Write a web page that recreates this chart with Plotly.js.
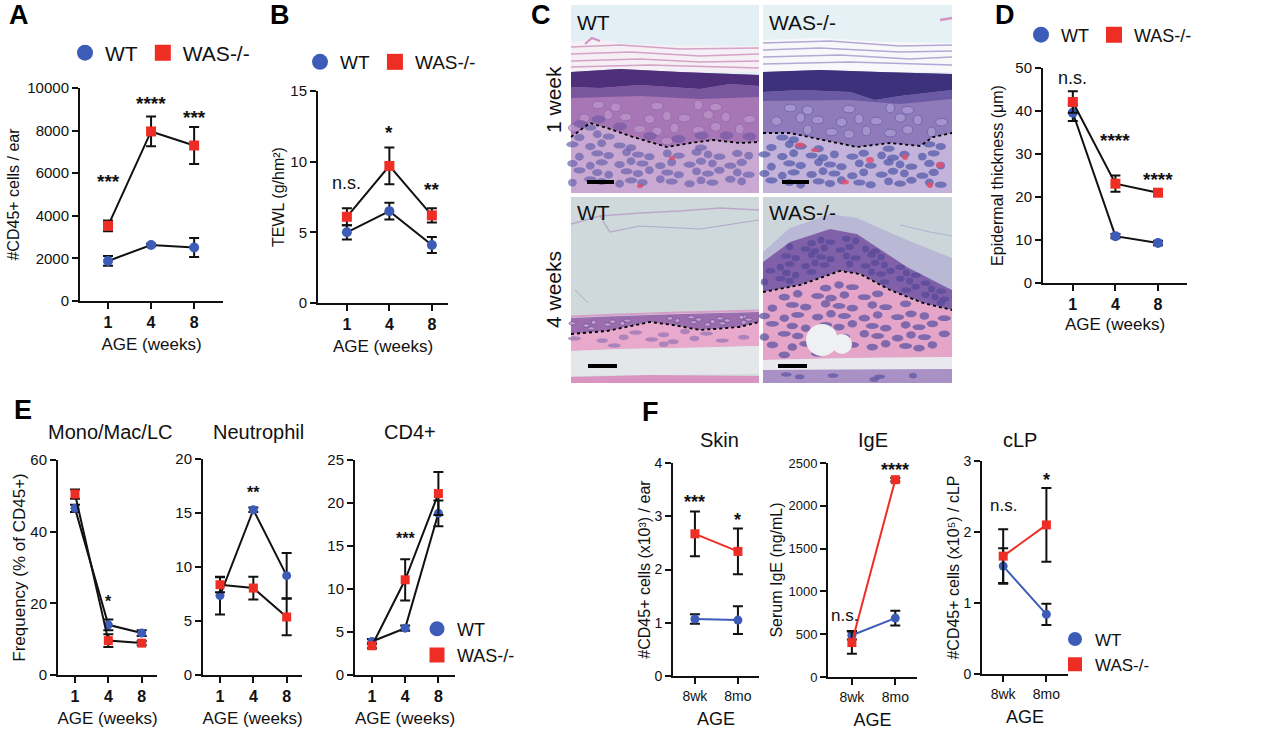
<!DOCTYPE html>
<html><head><meta charset="utf-8">
<script src="https://cdn.plot.ly/plotly-3.0.1.min.js"></script>
<style>html,body{margin:0;padding:0;background:#fff;}#chart{width:1266px;height:732px;}</style>
</head><body><div id="chart"></div>
<script>
// ---------- DATA ----------
const weeks = ['1', '4', '8'];
const ageF = ['8wk', '8mo'];
// A: #CD45+ cells / ear
const aWT = [1880, 2630, 2510], aWTerr = [230, 60, 450];
const aWAS = [3530, 7960, 7300], aWASerr = [250, 700, 870];
// B: TEWL
const bWT = [5.0, 6.5, 4.1], bWTerr = [0.5, 0.6, 0.57];
const bWAS = [6.1, 9.7, 6.2], bWASerr = [0.6, 1.3, 0.5];
// D: Epidermal thickness
const dWT = [39.6, 10.9, 9.3], dWTerr = [1.9, 0.5, 0.5];
const dWAS = [42.1, 23.1, 21.0], dWASerr = [2.5, 1.9, 0.6];
// E: Frequency (% of CD45+)
const monoWT = [46.5, 14.0, 11.7], monoWTerr = [1.0, 1.5, 0.8];
const monoWAS = [50.5, 9.6, 8.9], monoWASerr = [1.3, 1.8, 0.6];
const neuWT = [7.35, 15.3, 9.2], neuWTerr = [1.75, 0.2, 2.1];
const neuWAS = [8.36, 8.05, 5.37], neuWASerr = [0.7, 1.05, 1.7];
const cd4WT = [3.9, 5.45, 18.8], cd4WTerr = [0.3, 0.3, 1.5];
const cd4WAS = [3.4, 11.07, 21.1], cd4WASerr = [0.3, 2.4, 2.5];
// F
const skinWT = [1.07, 1.05], skinWTerr = [0.09, 0.26];
const skinWAS = [2.67, 2.34], skinWASerr = [0.42, 0.43];
const igeWT = [488, 688], igeWTerr = [50, 85];
const igeWAS = [402, 2305], igeWASerr = [130, 20];
const clpWT = [1.52, 0.84], clpWTerr = [0.25, 0.15];
const clpWAS = [1.66, 2.10], clpWASerr = [0.38, 0.52];

// ---------- STYLE ----------
const W = 1266, H = 732;
const BLUE = '#3c5cb8', RED = '#ee2d24', INK = '#111111';
const FONT = '"Liberation Sans", Arial, Helvetica, sans-serif';
const px = x => x / W;
const py = y => 1 - y / H;

const data = [];
const layout = {
  width: W, height: H, margin: {l: 0, r: 0, t: 0, b: 0},
  paper_bgcolor: '#ffffff', plot_bgcolor: 'rgba(0,0,0,0)',
  font: {family: FONT, color: INK},
  showlegend: true, annotations: [], shapes: [], hovermode: false
};

const panels = [
  {n: 1, xd: [80, 223], yd: [88, 301], xr: [-0.65, 2.67], yr: [0, 10000], dt: 2000, cats: weeks,
   wt: aWT, wte: aWTerr, was: aWAS, wase: aWASerr, yt: '#CD45+ cells / ear', xt: 'AGE (weeks)',
   ms: 10, colored: false, tickF: 15, xtickF: 16, xbold: true, ytF: 16, xtF: 17, ystand: 4, xstand: 8,
   stars: [[0, 5822, '***'], [1, 9530, '****'], [2, 8873, '***']], starF: 19},
  {n: 2, xd: [318, 448], yd: [91, 303], xr: [-0.68, 2.38], yr: [0, 15], dt: 5, cats: weeks,
   wt: bWT, wte: bWTerr, was: bWAS, wase: bWASerr, yt: 'TEWL (g/hm²)', xt: 'AGE (weeks)',
   ms: 10, colored: false, tickF: 15, xtickF: 16, xbold: true, ytF: 16, xtF: 17, ystand: 2, xstand: 8,
   stars: [[0, 8.49, 'n.s.'], [1, 12.45, '*'], [2, 8.35, '**']], starF: 19},
  {n: 3, xd: [1043, 1187], yd: [68, 283], xr: [-0.7, 2.68], yr: [0, 50], dt: 10, cats: weeks,
   wt: dWT, wte: dWTerr, was: dWAS, wase: dWASerr, yt: 'Epidermal thickness (μm)', xt: 'AGE (weeks)',
   ms: 10, colored: false, tickF: 15, xtickF: 16, xbold: true, ytF: 16, xtF: 17, ystand: 8, xstand: 6,
   stars: [[0, 47.7, 'n.s.'], [1, 34.4, '****'], [2, 25.3, '****']], starF: 19},
  {n: 4, xd: [58, 157], yd: [460, 675], xr: [-0.51, 2.46], yr: [0, 60], dt: 20, cats: weeks,
   wt: monoWT, wte: monoWTerr, was: monoWAS, wase: monoWASerr, yt: 'Frequency (% of CD45+)', xt: 'AGE (weeks)',
   ms: 9, colored: false, tickF: 15, xtickF: 16, xbold: true, ytF: 17, xtF: 17, ystand: 0, xstand: 8,
   title: 'Mono/Mac/LC', tx: 110, ty: 432, stars: [[1, 21.8, '*']], starF: 16},
  {n: 5, xd: [203, 302], yd: [459, 675], xr: [-0.51, 2.46], yr: [0, 20], dt: 5, cats: weeks,
   wt: neuWT, wte: neuWTerr, was: neuWAS, wase: neuWASerr, yt: null, xt: 'AGE (weeks)',
   ms: 9, colored: false, tickF: 15, xtickF: 16, xbold: true, ytF: 17, xtF: 17, ystand: 0, xstand: 8,
   title: 'Neutrophil', tx: 258, ty: 432, stars: [[1, 17.4, '**']], starF: 16},
  {n: 6, xd: [355, 455], yd: [460, 675], xr: [-0.51, 2.5], yr: [0, 25], dt: 5, cats: weeks,
   wt: cd4WT, wte: cd4WTerr, was: cd4WAS, wase: cd4WASerr, yt: null, xt: 'AGE (weeks)',
   ms: 9, colored: false, tickF: 15, xtickF: 16, xbold: true, ytF: 17, xtF: 17, ystand: 0, xstand: 8,
   title: 'CD4+', tx: 410, ty: 432, stars: [[1, 16.4, '***']], starF: 16},
  {n: 7, xd: [673, 759], yd: [463, 676], xr: [-0.51, 1.49], yr: [0, 4], dt: 1, cats: ageF,
   wt: skinWT, wte: skinWTerr, was: skinWAS, wase: skinWASerr, yt: '#CD45+ cells (x10³) / ear', xt: 'AGE',
   ms: 9, colored: true, tickF: 14, xtickF: 14, xbold: false, ytF: 16, xtF: 18, ystand: 0, xstand: 10,
   title: 'Skin', tx: 719, ty: 440, stars: [[0, 3.36, '***'], [1, 3.02, '*']], starF: 18},
  {n: 8, xd: [828, 917], yd: [463, 677], xr: [-0.55, 1.5], yr: [0, 2500], dt: 500, cats: ageF,
   wt: igeWT, wte: igeWTerr, was: igeWAS, wase: igeWASerr, yt: 'Serum IgE (ng/mL)', xt: 'AGE',
   ms: 9, colored: true, tickF: 13, xtickF: 14, xbold: false, ytF: 16, xtF: 18, ystand: 2, xstand: 10,
   title: 'IgE', tx: 873, ty: 440, stars: [[-0.18, 724, 'n.s.'], [1, 2477, '****']], starF: 18},
  {n: 9, xd: [982, 1068], yd: [461, 674], xr: [-0.49, 1.5], yr: [0, 3], dt: 1, cats: ageF,
   wt: clpWT, wte: clpWTerr, was: clpWAS, wase: clpWASerr, yt: '#CD45+ cells (x10⁵) / cLP', xt: 'AGE',
   ms: 9, colored: true, tickF: 14, xtickF: 14, xbold: false, ytF: 16, xtF: 18, ystand: 0, xstand: 10,
   title: 'cLP', tx: 1020, ty: 440, stars: [[0, 2.37, 'n.s.'], [1, 2.8, '*']], starF: 18}
];

const baseAxis = {showline: true, linecolor: INK, linewidth: 2, ticks: 'outside', ticklen: 6, tickwidth: 2,
  tickcolor: INK, showgrid: false, zeroline: false, fixedrange: true, automargin: false};

panels.forEach(p => {
  const sfx = p.n === 1 ? '' : String(p.n);
  const xa = 'x' + sfx, ya = 'y' + sfx;
  layout['xaxis' + sfx] = Object.assign({}, baseAxis, {
    domain: [px(p.xd[0]), px(p.xd[1])], anchor: ya, type: 'category', range: p.xr,
    tickfont: {family: FONT, size: p.xtickF, weight: p.xbold ? 'bold' : 'normal', color: INK},
    title: {text: p.xt, font: {family: FONT, size: p.xtF, color: INK}, standoff: p.xstand}
  });
  const yax = Object.assign({}, baseAxis, {
    domain: [py(p.yd[1]), py(p.yd[0])], anchor: xa, range: p.yr, tick0: 0, dtick: p.dt,
    tickformat: 'd', tickfont: {family: FONT, size: p.tickF, color: INK}
  });
  if (p.yt) yax.title = {text: p.yt, font: {family: FONT, size: p.ytF, color: INK}, standoff: p.ystand};
  layout['yaxis' + sfx] = yax;
  const mk = (y, e, color, symbol, name) => ({
    type: 'scatter', mode: 'lines+markers', x: p.cats, y: y, xaxis: xa, yaxis: ya, name: name,
    line: {color: p.colored ? color : INK, width: 2},
    marker: {symbol: symbol, size: p.ms, color: color},
    error_y: {type: 'data', array: e, visible: true, color: INK, thickness: 2, width: 5},
    showlegend: false, cliponaxis: false, hoverinfo: 'skip'
  });
  data.push(mk(p.wt, p.wte, BLUE, 'circle', 'WT'));
  data.push(mk(p.was, p.wase, RED, 'square', 'WAS-/-'));
  p.stars.forEach(s => {
    const isNs = s[2] === 'n.s.';
    layout.annotations.push({xref: xa, yref: ya, x: s[0], y: s[1], text: s[2], showarrow: false,
      xanchor: 'center', yanchor: 'middle', yshift: isNs ? 0 : -5,
      font: {family: FONT, size: isNs ? p.starF - 1 : p.starF, weight: isNs ? 'normal' : 'bold', color: INK}});
  });
  if (p.title) {
    layout.annotations.push({xref: 'paper', yref: 'paper', x: px(p.tx), y: py(p.ty), text: p.title,
      showarrow: false, xanchor: 'center', yanchor: 'middle', font: {family: FONT, size: 20, color: INK}});
  }
});

// legends (one per figure panel group)
function legendPair(legendId, xa, ya, size) {
  [['WT', 'circle', BLUE], ['WAS-/-', 'square', RED]].forEach(d => {
    data.push({type: 'scatter', mode: 'markers', x: [null], y: [null], xaxis: xa, yaxis: ya, name: d[0],
      marker: {symbol: d[1], size: size, color: d[2]}, legend: legendId, showlegend: true, hoverinfo: 'skip'});
  });
}
legendPair('legend', 'x', 'y', 16);
legendPair('legend2', 'x2', 'y2', 16);
legendPair('legend3', 'x3', 'y3', 16);
legendPair('legend4', 'x6', 'y6', 15);
legendPair('legend5', 'x9', 'y9', 14);
const legBase = {xanchor: 'left', yanchor: 'middle', bgcolor: 'rgba(0,0,0,0)', borderwidth: 0,
  itemclick: false, itemdoubleclick: false, tracegroupgap: 0};
layout.legend = Object.assign({}, legBase, {x: px(65), y: py(53), orientation: 'h', font: {size: 21, color: INK}});
layout.legend2 = Object.assign({}, legBase, {x: px(300), y: py(62), orientation: 'h', font: {size: 19, color: INK}});
layout.legend3 = Object.assign({}, legBase, {x: px(1021), y: py(35), orientation: 'h', font: {size: 18, color: INK}});
layout.legend4 = Object.assign({}, legBase, {x: px(417), y: py(642), orientation: 'v', font: {size: 18, color: INK}});
layout.legend5 = Object.assign({}, legBase, {x: px(1055), y: py(652), orientation: 'v', font: {size: 17, color: INK}});

// panel letters
[['A', 19, 15], ['B', 280, 15], ['C', 541, 15], ['D', 1005, 15], ['E', 23, 410], ['F', 650, 412]].forEach(l => {
  layout.annotations.push({xref: 'paper', yref: 'paper', x: px(l[1]), y: py(l[2]), text: l[0], showarrow: false,
    xanchor: 'center', yanchor: 'middle', font: {family: FONT, size: 27, weight: 'bold', color: '#000'}});
});

// ---------- Panel C: histology sketch ----------
const S = layout.shapes;
const pstr = (pts, close) => pts.map((q, i) => (i ? 'L' : 'M') + px(q[0]).toFixed(5) + ',' + py(q[1]).toFixed(5)).join(' ') + (close ? ' Z' : '');
function poly(pts, fill, op) { S.push({type: 'path', xref: 'paper', yref: 'paper', path: pstr(pts, true), fillcolor: fill, opacity: op || 1, line: {width: 0}, layer: 'above'}); }
function pline(pts, color, w, dash, op) { S.push({type: 'path', xref: 'paper', yref: 'paper', path: pstr(pts, false), line: {color: color, width: w, dash: dash || 'solid'}, opacity: op || 1, layer: 'above'}); }
function rect(x0, y0, x1, y1, fill) { S.push({type: 'rect', xref: 'paper', yref: 'paper', x0: px(x0), x1: px(x1), y0: py(y1), y1: py(y0), fillcolor: fill, line: {width: 0}, layer: 'above'}); }
function ell(cx, cy, rx, ry, fill, lc, op) { S.push({type: 'circle', xref: 'paper', yref: 'paper', x0: px(cx - rx), x1: px(cx + rx), y0: py(cy + ry), y1: py(cy - ry), fillcolor: fill, line: {color: lc || fill, width: lc ? 1 : 0}, opacity: op || 1, layer: 'above'}); }
function interp(pts, x) {
  if (x <= pts[0][0]) return pts[0][1];
  for (let i = 0; i < pts.length - 1; i++) {
    if (x <= pts[i + 1][0]) { const t = (x - pts[i][0]) / (pts[i + 1][0] - pts[i][0]); return pts[i][1] + t * (pts[i + 1][1] - pts[i][1]); }
  }
  return pts[pts.length - 1][1];
}
function nuclei(top, bot, x0, x1, dx, dy, rx, ry, fill, lc, op) {
  const ymin = Math.min(...top.map(q => q[1])), ymax = Math.max(...bot.map(q => q[1]));
  let row = 0;
  for (let y = ymin + dy / 2; y < ymax; y += dy, row++) {
    let col = 0;
    for (let x = x0 + (row % 2) * dx / 2; x <= x1; x += dx, col++) {
      const jx = ((row * 5 + col * 3) % 5) - 2, jy = ((row * 3 + col * 7) % 5) - 2;
      const cx = x + jx * 1.3, cy = y + jy * 1.1;
      const k = ((row + col * 2) % 3);
      const rxx = rx * (0.8 + 0.15 * k), ryy = ry * (1.1 - 0.12 * k);
      if (cy - ryy > interp(top, cx) + 1 && cy + ryy < interp(bot, cx) - 1) ell(cx, cy, rxx, ryy, fill, lc, op);
    }
  }
}
// Tile 1: WT 1 week
(function () {
  const x0 = 571, x1 = 759, y0 = 5, y1 = 193;
  rect(x0, y0, x1, y1, '#e2eff4');
  poly([[x0, 42], [600, 39], [625, 44], [680, 45], [x1, 46], [x1, 72], [x0, 72]], '#f5f0f5');
  [[[x0, 47], [620, 45], [680, 49], [x1, 48]], [[x0, 54], [630, 52], [700, 56], [x1, 54]],
   [[x0, 61], [640, 59], [700, 62], [x1, 61]], [[x0, 67], [650, 65], [x1, 68]]].forEach(l => pline(l, '#cf8fbd', 1.4, 'solid', 0.8));
  pline([[585, 44], [592, 38], [600, 41]], '#d58fc0', 2);
  const epiTop = [[x0, 72], [620, 69], [680, 72], [x1, 75]];
  const dash = [[571, 137], [590, 123], [607, 128], [633, 137], [667, 147], [690, 143], [713, 140], [740, 143], [759, 142]];
  poly(epiTop.concat([[x1, y1], [x0, y1]]), '#a677b4');
  poly(epiTop.concat([[x1, 86], [730, 84], [700, 89], [640, 85], [600, 88], [x0, 87]]), '#4d3079');
  poly([[x0, 87], [600, 88], [640, 85], [700, 89], [730, 84], [x1, 86], [x1, 97], [700, 99], [640, 96], [x0, 98]], '#7a569e');
  nuclei([[x0, 99], [x1, 99]], dash, x0 + 6, x1 - 4, 20, 12, 5.5, 4.5, '#bd96c8', '#956aae', 0.75);
  poly(dash.concat([[x1, y1], [x0, y1]]), '#c9a8d2');
  nuclei(dash, [[x0, y1 - 1], [x1, y1 - 1]], x0 + 4, x1 - 4, 14, 9, 5.5, 3.6, '#6a62ad', null, 0.7);
  dash.forEach((q, i) => { if (i < dash.length - 1) ell((q[0] + dash[i + 1][0]) / 2, (q[1] + dash[i + 1][1]) / 2 - 6, 7, 4, '#6e55a3', null, 0.6); });
  ell(672, 158, 3, 2, '#e0476a', null, 0.8); ell(640, 186, 3, 2, '#e0476a', null, 0.8);
  pline(dash, '#000', 1.8, 'dot');
  rect(587, 180, 614, 184, '#000');
})();
// Tile 2: WAS-/- 1 week
(function () {
  const x0 = 763, x1 = 952, y0 = 5, y1 = 193;
  rect(x0, y0, x1, y1, '#e6f1f5');
  poly([[x0, 40], [820, 38], [880, 42], [x1, 43], [x1, 72], [x0, 72]], '#f8f8fb');
  [[[x0, 43], [830, 41], [900, 46], [x1, 45]], [[x0, 50], [820, 48], [900, 52], [x1, 51]],
   [[x0, 57], [840, 55], [910, 59], [x1, 57]], [[x0, 64], [850, 62], [x1, 65]]].forEach(l => pline(l, '#a396cb', 1.4, 'solid', 0.8));
  pline([[940, 20], [952, 18]], '#d592c4', 2.5);
  const epiTop = [[x0, 72], [820, 70], [880, 72], [x1, 74]];
  const dash = [[763, 133], [790, 133], [823, 140], [857, 147], [890, 143], [920, 146], [933, 137], [952, 133]];
  poly(epiTop.concat([[x1, y1], [x0, y1]]), '#8f7bb9');
  poly(epiTop.concat([[x1, 90], [900, 96], [875, 100], [850, 92], [800, 90], [x0, 92]]), '#3e317c');
  poly([[x0, 92], [800, 90], [850, 92], [875, 100], [900, 96], [x1, 90], [x1, 99], [900, 104], [850, 100], [x0, 101]], '#6a59a3');
  nuclei([[x0, 102], [x1, 102]], dash, x0 + 6, x1 - 4, 20, 12, 5.5, 4.5, '#aa9dd2', '#7260aa', 0.75);
  poly(dash.concat([[x1, y1], [x0, y1]]), '#c3b3da');
  nuclei(dash, [[x0, y1 - 1], [x1, y1 - 1]], x0 + 4, x1 - 4, 14, 9, 5.5, 3.6, '#5058a8', null, 0.72);
  [[800, 145, 5, 2.5], [815, 150, 4, 2], [870, 160, 4, 3], [905, 157, 3, 3], [940, 165, 4, 3], [845, 182, 4, 2.5], [930, 185, 3, 3]]
    .forEach(r => ell(r[0], r[1], r[2], r[3], '#e0506e', null, 0.85));
  pline(dash, '#000', 1.8, 'dot');
  rect(782, 180, 809, 184, '#000');
})();
// Tile 3: WT 4 weeks
(function () {
  const x0 = 571, x1 = 759, y0 = 197, y1 = 383;
  rect(x0, y0, x1, y1, '#cfd9db');
  pline([[x0, 224], [600, 216], [640, 213], [680, 211], [720, 208], [x1, 210]], '#b89ac6', 1.3, 'solid', 0.8);
  pline([[600, 216], [610, 232], [640, 226], [700, 229], [x1, 220]], '#aa9cc8', 1.2, 'solid', 0.8);
  pline([[575, 290], [588, 303]], '#aab0c8', 1);
  const epiTop = [[x0, 318], [620, 316], [680, 314], [x1, 312]];
  const dash = [[571, 334], [607, 331], [650, 322], [673, 325], [700, 330], [740, 327], [759, 322]];
  const derm = [[x0, 351], [620, 349], [680, 348], [x1, 346]];
  pline(epiTop.map(q => [q[0], q[1] - 1.5]), '#d79cc7', 2.2);
  poly(epiTop.concat(dash.slice().reverse()), '#9b6cae');
  nuclei(epiTop, dash, x0 + 4, x1 - 4, 10, 5, 3.2, 2, '#c6accf', '#7a55a0', 0.8);
  poly(dash.concat(derm.slice().reverse()), '#e8a9cc');
  nuclei(dash, derm, x0 + 6, x1 - 6, 24, 7, 6, 2.5, '#9474b3', null, 0.7);
  poly([[x0, 351], [620, 349], [680, 348], [x1, 346], [x1, 374], [x0, 376]], '#e4e7ea');
  poly([[x0, 377], [650, 375], [x1, 376], [x1, y1], [x0, y1]], '#d994c1');
  pline(dash, '#000', 1.8, 'dot');
  rect(588, 364, 617, 368, '#000');
})();
// Tile 4: WAS-/- 4 weeks
(function () {
  const x0 = 763, x1 = 952, y0 = 197, y1 = 383;
  rect(x0, y0, x1, y1, '#ccd6da');
  const haze = [[x0, 252], [790, 228], [830, 214], [857, 218], [907, 240], [x1, 258]];
  const epiTop = [[x0, 262], [790, 242], [830, 229], [857, 234], [907, 267], [x1, 290]];
  const dash = [[763, 292], [800, 285], [840, 271], [860, 274], [890, 290], [923, 303], [952, 310]];
  poly(haze.concat(epiTop.slice().reverse()), '#b9b9d6');
  pline([[900, 225], [930, 232], [x1, 236]], '#aab5cf', 1.2);
  poly(epiTop.concat(dash.slice().reverse()), '#8061a9');
  nuclei(epiTop, dash, x0 + 4, x1 - 3, 12, 8, 4.5, 3.2, '#574a9b', null, 0.75);
  const dermBot = [[x0, 360], [850, 358], [x1, 357]];
  poly(dash.concat(dermBot.slice().reverse()), '#e4a5c9');
  nuclei(dash, dermBot, x0 + 4, x1 - 4, 16, 10, 6, 3.4, '#5e54a2', null, 0.75);
  ell(822, 340, 16, 16, '#eef0f3'); ell(842, 344, 10, 10, '#eef0f3');
  poly([[x0, 360], [850, 358], [x1, 357], [x1, 369], [x0, 370]], '#e9e8ef');
  poly([[x0, 370], [x1, 369], [x1, y1], [x0, y1]], '#a991c5');
  nuclei([[x0, 371], [x1, 371]], [[x0, y1], [x1, y1]], x0 + 6, x1 - 4, 16, 7, 5, 2.6, '#5e54a2', null, 0.7);
  pline(dash, '#000', 1.8, 'dot');
  rect(778, 364, 807, 368, '#000');
})();
// Panel C labels
[['WT', 575, 22], ['WAS-/-', 767, 22], ['WT', 575, 212], ['WAS-/-', 767, 212]].forEach(l => {
  layout.annotations.push({xref: 'paper', yref: 'paper', x: px(l[1]), y: py(l[2]), text: l[0], showarrow: false,
    xanchor: 'left', yanchor: 'middle', font: {family: FONT, size: 21, color: '#111'}});
});
[['1 week', 553, 100], ['4 weeks', 553, 290]].forEach(l => {
  layout.annotations.push({xref: 'paper', yref: 'paper', x: px(l[1]), y: py(l[2]), text: l[0], showarrow: false,
    textangle: -90, xanchor: 'center', yanchor: 'middle', font: {family: FONT, size: 21, color: '#111'}});
});

Plotly.newPlot('chart', data, layout, {staticPlot: true, displayModeBar: false});
</script></body></html>
